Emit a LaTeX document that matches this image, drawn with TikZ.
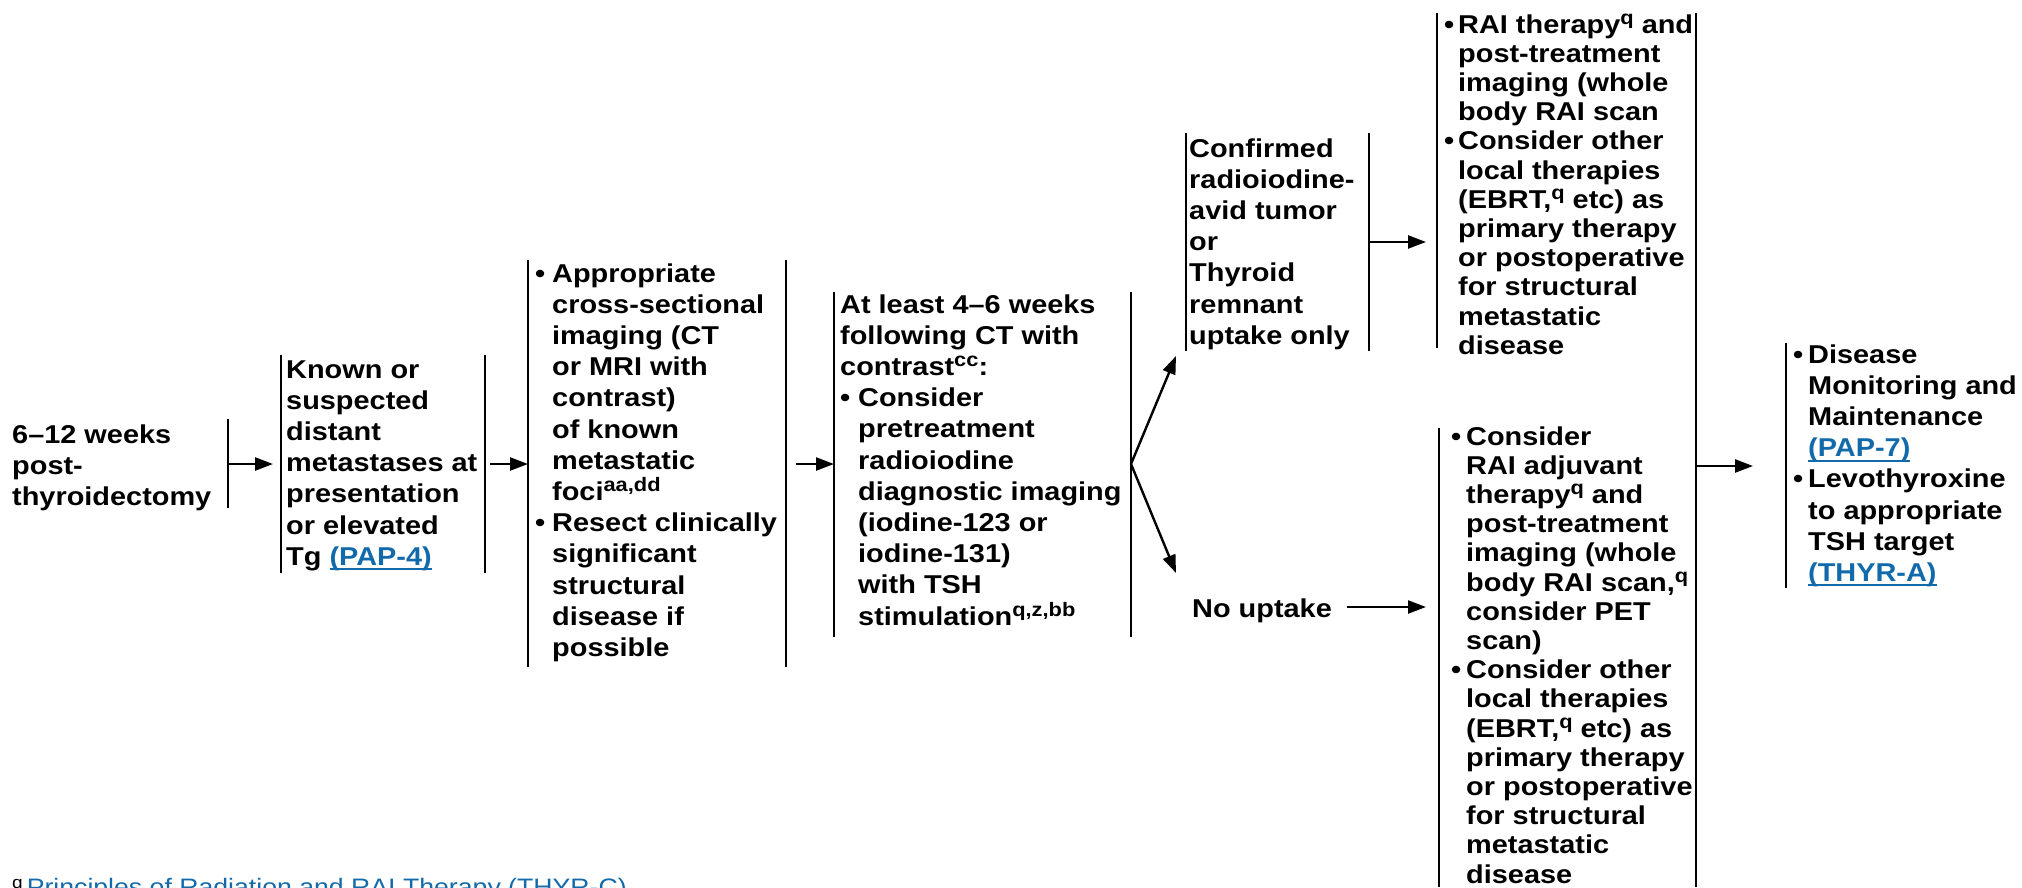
\documentclass[tikz,border=0pt]{standalone}
\usepackage{fontspec}
\setmainfont{Liberation Sans}[FakeStretch=1.12]
\usetikzlibrary{arrows.meta}
\definecolor{linkblue}{RGB}{18,106,170}

% superscript footnote marks, smashed so they do not disturb the line spacing
\newcommand\sups[1]{\smash{\raisebox{9pt}{\fontsize{19.5pt}{19.5pt}\selectfont #1}}}
% underlined cross-reference
\newcommand\lnk[1]{\textcolor{linkblue}{\setbox0\hbox{#1}\rlap{\rule[-5pt]{\wd0}{2pt}}\box0}}
% stacked lines, baseline at the first line
\newcommand\stk[1]{\begin{tabular}[t]{@{}l@{}}#1\end{tabular}}
% bullet with hanging indent, and the matching indent for continuation lines
\newcommand\bl[1]{\makebox[#1][l]{\textbullet}}
\newcommand\hg[1]{\hspace*{#1}}

\tikzset{
  txt/.style={anchor=base west, inner sep=0pt, font=\fontsize{25.8pt}{31.2pt}\selectfont\bfseries},
  txttight/.style={txt, font=\fontsize{25.8pt}{29.2pt}\selectfont\bfseries},
  bar/.style={line width=2.4pt},
  arr/.style={line width=2.4pt, -{Triangle[length=18pt,width=13pt]}},
}

\begin{document}
\begin{tikzpicture}[x=1pt,y=-1pt]
\useasboundingbox (0,0) rectangle (2022,887);

% ---- text blocks ----
\node[txt] (weeks) at (12,443) {\stk{6–12 weeks\\post-\\thyroidectomy}};

\node[txt] (known) at (286,378) {\stk{Known or\\suspected\\distant\\metastases at\\presentation\\or elevated\\Tg \lnk{(PAP-4)}}};

\node[txt] (imaging) at (535,282) {\stk{%
\bl{17pt}Appropriate\\
\hg{17pt}cross-sectional\\
\hg{17pt}imaging (CT\\
\hg{17pt}or MRI with\\
\hg{17pt}contrast)\\
\hg{17pt}of known\\
\hg{17pt}metastatic\\
\hg{17pt}foci\sups{aa,dd}\\
\bl{17pt}Resect clinically\\
\hg{17pt}significant\\
\hg{17pt}structural\\
\hg{17pt}disease if\\
\hg{17pt}possible}};

\node[txt] (weeks46) at (840,313) {\stk{%
At least 4–6 weeks\\
following CT with\\
contrast\sups{cc}:\\
\bl{18pt}Consider\\
\hg{18pt}pretreatment\\
\hg{18pt}radioiodine\\
\hg{18pt}diagnostic imaging\\
\hg{18pt}(iodine-123 or\\
\hg{18pt}iodine-131)\\
\hg{18pt}with TSH\\
\hg{18pt}stimulation\sups{q,z,bb}}};

\node[txt] (avid) at (1189,157) {\stk{Confirmed\\radioiodine-\\avid tumor\\or\\Thyroid\\remnant\\uptake only}};

\node[txt] (nouptake) at (1192,617) {No uptake};

\node[txttight] (raitherapy) at (1444,33) {\stk{%
\bl{14pt}RAI therapy\sups{q} and\\
\hg{14pt}post-treatment\\
\hg{14pt}imaging (whole\\
\hg{14pt}body RAI scan\\
\bl{14pt}Consider other\\
\hg{14pt}local therapies\\
\hg{14pt}(EBRT,\sups{q} etc) as\\
\hg{14pt}primary therapy\\
\hg{14pt}or postoperative\\
\hg{14pt}for structural\\
\hg{14pt}metastatic\\
\hg{14pt}disease}};

\node[txttight] (adjuvant) at (1451,445) {\stk{%
\bl{15pt}Consider\\
\hg{15pt}RAI adjuvant\\
\hg{15pt}therapy\sups{q} and\\
\hg{15pt}post-treatment\\
\hg{15pt}imaging (whole\\
\hg{15pt}body RAI scan,\sups{q}\\
\hg{15pt}consider PET\\
\hg{15pt}scan)\\
\bl{15pt}Consider other\\
\hg{15pt}local therapies\\
\hg{15pt}(EBRT,\sups{q} etc) as\\
\hg{15pt}primary therapy\\
\hg{15pt}or postoperative\\
\hg{15pt}for structural\\
\hg{15pt}metastatic\\
\hg{15pt}disease}};

\node[txt] (monitor) at (1793,363) {\stk{%
\bl{15pt}Disease\\
\hg{15pt}Monitoring and\\
\hg{15pt}Maintenance\\
\hg{15pt}\lnk{(PAP-7)}\\
\bl{15pt}Levothyroxine\\
\hg{15pt}to appropriate\\
\hg{15pt}TSH target\\
\hg{15pt}\lnk{(THYR-A)}}};

% footnote
\node[anchor=base west, inner sep=0pt, font=\fontsize{23.8pt}{28pt}\selectfont] (fnote) at (12,895)
  {\raisebox{7pt}{\fontsize{17pt}{17pt}\selectfont q}\hspace{4pt}\textcolor{linkblue}{Principles of Radiation and RAI Therapy (THYR-C)}};

% ---- bracket bars ----
\draw[bar] (228,419) -- (228,508);
\draw[bar] (281,355) -- (281,573);
\draw[bar] (485,355) -- (485,573);
\draw[bar] (528,260) -- (528,667);
\draw[bar] (786,260) -- (786,667);
\draw[bar] (834,292) -- (834,637);
\draw[bar] (1131,292) -- (1131,637);
\draw[bar] (1186,133) -- (1186,351);
\draw[bar] (1369,133) -- (1369,351);
\draw[bar] (1437,13) -- (1437,348);
\draw[bar] (1439,428) -- (1439,887);
\draw[bar] (1696,13) -- (1696,887);
\draw[bar] (1786,343) -- (1786,588);

% ---- connector end points ----
\coordinate (weeksE) at (228,464);
\coordinate (knownW) at (273,464);
\coordinate (knownE) at (490,464);
\coordinate (imagingW) at (528,464);
\coordinate (imagingE) at (796,464);
\coordinate (weeks46W) at (834,464);
\coordinate (weeks46E) at (1131,464);
\coordinate (avidSW) at (1176,356);
\coordinate (nouptakeNW) at (1176,573);
\coordinate (avidE) at (1369,242);
\coordinate (raitherapyW) at (1426,242);
\coordinate (nouptakeE) at (1347,607);
\coordinate (adjuvantW) at (1426,607);
\coordinate (mergeE) at (1696,466);
\coordinate (monitorW) at (1753,466);

% ---- connectors ----
\draw[arr] (weeksE) -- (knownW);
\draw[arr] (knownE) -- (imagingW);
\draw[arr] (imagingE) -- (weeks46W);
\draw[arr] (weeks46E) -- (avidSW);
\draw[arr] (weeks46E) -- (nouptakeNW);
\draw[arr] (avidE) -- (raitherapyW);
\draw[arr] (nouptakeE) -- (adjuvantW);
\draw[arr] (mergeE) -- (monitorW);
\end{tikzpicture}
\end{document}
